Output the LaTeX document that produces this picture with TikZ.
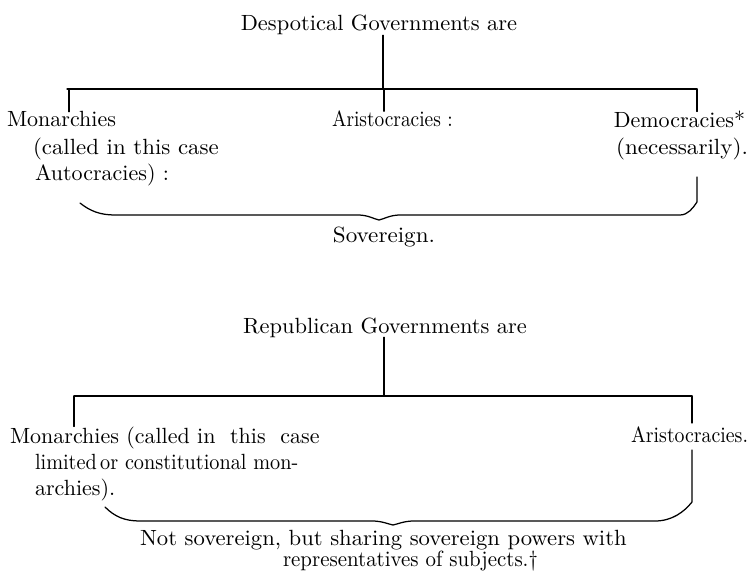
\documentclass[tikz,border=0pt]{standalone}
\usepackage{fontspec}
\setmainfont{lmroman10-regular.otf}
\usepackage{graphicx}
\newcommand{\hsc}[2]{\scalebox{#1}[1]{#2}}
\tikzset{
  lbl/.style={font=\fontsize{22}{26}\selectfont, inner sep=0pt, outer sep=0pt},
  ln/.style={line width=1.25pt, line cap=round, line join=round},
}
\begin{document}
\begin{tikzpicture}[x=1pt,y=-1pt]
\useasboundingbox (0,0) rectangle (752,575);
% ---------- Despotical ----------
\node[lbl, anchor=base] (t1) at (379,31) {\hsc{1.02}{Despotical Governments are}};
\node[lbl, anchor=base west] (m1) at (7,127) {Monarchies};
\node[lbl, anchor=base west] (m2) at (33,154) {\hsc{1.04}{(called in this case}};
\node[lbl, anchor=base west] (m3) at (35,180) {Autocracies) :};
\node[lbl, anchor=base west] (a1) at (332,127) {\hsc{0.88}{Aristocracies :}};
\node[lbl, anchor=base east] (d1) at (745,128) {Democracies*};
\node[lbl, anchor=base east] (d2) at (748,154) {\hsc{1.05}{(necessarily).}};
\node[lbl, anchor=base] (s1) at (384,242) {\hsc{1.05}{Sovereign.}};
\coordinate (b1) at (383,89);
\coordinate (b1l) at (67,89);
\coordinate (b1r) at (697,89);
\coordinate (k1) at (69,89);
\coordinate (k2) at (384,89);
\coordinate (e1) at (697,177);
\draw[ln] (t1.south -| b1) -- (b1);
\draw[ln] (b1l) -- (b1r);
\draw[ln] (k1) -- (k1 |- m1.north);
\draw[ln] (k2) -- (k2 |- a1.north);
\draw[ln] (b1r) -- (b1r |- d1.north);
\draw[ln] (80,203) .. controls (90,211) and (100,215) .. (115,215) -- (358,215)
  .. controls (368,215) and (374,219) .. (379,220)
  .. controls (384,219) and (390,215) .. (400,215) -- (680,215)
  .. controls (688,215) and (693,208) .. (697,202) -- (e1);
% ---------- Republican ----------
\node[lbl, anchor=base] (t2) at (385,333) {\hsc{1.02}{Republican Governments are}};
\node[lbl, anchor=base west] (n1) at (10,443) {Monarchies (called in\ \ this\ \ case};
\node[lbl, anchor=base west] (n2) at (35,469) {\hsc{0.92}{limited\,or constitutional mon-}};
\node[lbl, anchor=base west] (n3) at (35,495) {archies).};
\node[lbl, anchor=base east] (r1) at (748,442) {\hsc{0.9}{Aristocracies.}};
\node[lbl, anchor=base west] (v1) at (140,545) {\hsc{1.03}{Not sovereign, but sharing sovereign powers with}};
\node[lbl, anchor=base west] (v2) at (283,566) {\hsc{0.95}{representatives of subjects.\textdagger}};
\coordinate (b2) at (384,396);
\coordinate (b2l) at (74,396);
\coordinate (b2r) at (692,396);
\coordinate (e2) at (692,450);
\draw[ln] (t2.south -| b2) -- (b2);
\draw[ln] (b2l) -- (b2r);
\draw[ln] (b2l) -- (b2l |- n1.north);
\draw[ln] (b2r) -- (692,423);
\draw[ln] (105,507) .. controls (115,517) and (125,521) .. (140,521) -- (372,521)
  .. controls (382,521) and (388,524) .. (393,525)
  .. controls (398,524) and (404,521) .. (414,521) -- (655,521)
  .. controls (672,521) and (684,512) .. (692,502) -- (e2);
\end{tikzpicture}
\end{document}
